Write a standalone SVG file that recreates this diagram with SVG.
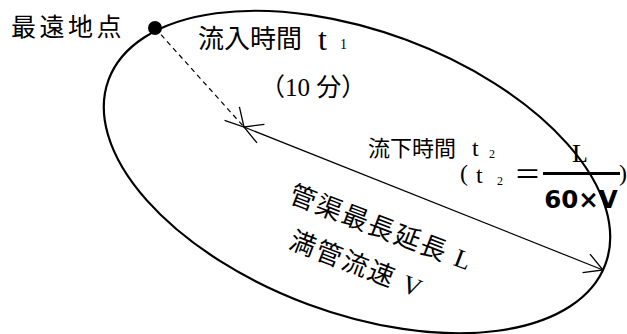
<svg xmlns="http://www.w3.org/2000/svg" width="627" height="334" viewBox="0 0 627 334">
<style>
.t{font-family:"Liberation Serif","Noto Sans CJK JP",serif;fill:#000}
.g{font-family:"Noto Sans CJK JP","Liberation Sans",sans-serif;fill:#000}
.b{font-family:"DejaVu Sans","Liberation Sans",sans-serif;font-weight:bold;fill:#000}
.ln{fill:none;stroke:#000}
</style>
<defs>
<marker id="ah" markerWidth="24" markerHeight="24" refX="20" refY="12" orient="auto-start-reverse" markerUnits="userSpaceOnUse" viewBox="0 0 24 24">
<path d="M2 2 L20 12 L2 22" fill="none" stroke="#000" stroke-width="1.3"/>
</marker>
</defs>
<rect width="627" height="334" fill="#fff"/>
<g id="area">
<ellipse cx="357" cy="172" rx="265" ry="141" transform="rotate(20.4 357 172)" class="ln" stroke-width="2.2"/>
</g>
<g id="farthest-point">
<circle cx="155" cy="28" r="7" fill="#000"/>
<text class="g" x="11" y="36" font-size="25" letter-spacing="3.5">最遠地点</text>
</g>
<g id="connectors">
<line x1="155" y1="28" x2="244" y2="127" class="ln" stroke-width="1.2" stroke-dasharray="5 4" marker-end="url(#ah)"/>
<line x1="244" y1="127" x2="603" y2="270" class="ln" stroke-width="1.2" marker-start="url(#ah)" marker-end="url(#ah)"/>
</g>
<g id="inflow-time">
<text class="t" x="198" y="48" font-size="26">流入時間</text>
<text class="t" x="318" y="50" font-size="32">t</text>
<text class="t" x="340" y="49" font-size="14">1</text>
<text class="t" x="260" y="96" font-size="25">（10 分）</text>
</g>
<g id="flow-time">
<text class="t" x="368" y="156" font-size="22">流下時間</text>
<text class="t" x="472" y="156" font-size="24">t</text>
<text class="t" x="489" y="158" font-size="12">2</text>
<text class="t" x="460" y="181" font-size="24">(</text>
<text class="t" x="476" y="183" font-size="24">t</text>
<text class="t" x="497" y="185" font-size="12">2</text>
<text class="g" x="514" y="184" font-size="27">＝</text>
<line x1="543" y1="173.5" x2="620" y2="173.5" stroke="#000" stroke-width="3"/>
<text class="t" x="580" y="162" font-size="26" text-anchor="middle">L</text>
<text class="b" x="581" y="208" font-size="24.5" text-anchor="middle">60×V</text>
<text class="t" x="619" y="181" font-size="24">)</text>
</g>
<g id="pipe-label">
<text class="t" x="287.4" y="201.6" font-size="26" letter-spacing="2" transform="rotate(21 287.4 201.6)">管渠最長延長 L</text>
<text class="t" x="287.4" y="247.6" font-size="26" letter-spacing="2" transform="rotate(21 287.4 247.6)">満管流速 V</text>
</g>
</svg>
